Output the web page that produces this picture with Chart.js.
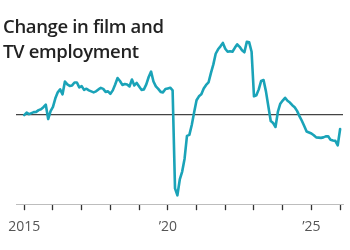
<!DOCTYPE html>
<html>
<head>
<meta charset="utf-8">
<script src="https://cdn.jsdelivr.net/npm/chart.js@4"></script>
<style>
  html, body { margin: 0; padding: 0; background: #fff; }
  #wrap { position: relative; width: 350px; height: 250px; }
  #title {
    position: absolute; left: 3px; top: 13px;
    font-family: "Open Sans", sans-serif; font-weight: 600;
    font-size: 18.5px; line-height: 25px; letter-spacing: -0.35px; color: #222;
    pointer-events: none;
  }
</style>
</head>
<body>
<div id="wrap">
  <canvas id="chart" width="350" height="250"></canvas>
  <div id="title">Change in film and<br>TV employment</div>
</div>
<script>
// monthly, Jan 2015 .. Jan 2026, change vs. Jan 2015 (arbitrary units)
const startYear = 2015;
const values = [
  0, 2.5, 1, 2, 3, 3.3, 5, 6, 8, 10.5, -4, 4,
  8.3, 17, 23, 26, 21, 34, 31, 29.5, 30, 33, 33, 28,
  29.3, 25.5, 26.7, 25, 24, 23, 24, 26, 27.5, 26.5, 23.5, 24,
  21.5, 25, 31, 37.5, 34.5, 30.5, 31.5, 31, 29, 36, 30, 32.5,
  29, 25.5, 26, 31, 38.5, 44, 34, 29, 26.5, 23.5, 23, 26.3,
  27, 27.7, 25, -74, -81, -65, -57, -44, -21, -20, -10, 3,
  15, 19, 21, 27, 30.5, 33, 42.5, 51, 62, 66.5, 69.5, 73,
  67, 64, 64.5, 64, 68, 71.5, 69, 65.5, 63.5, 74, 73.5, 64,
  19, 20, 26, 34.5, 35.5, 24, 9, -6, -8, -12, 3.5, 11.5,
  14.7, 17.5, 14.5, 12.7, 10, 8, 4.3, -1, -5.7, -11, -16.5, -17.5,
  -18.5, -20.3, -22.5, -22.7, -23, -22.5, -21.5, -21.3, -25, -25.7, -26, -30.5,
  -14
];
const tickYears = [2015, 2016, 2017, 2018, 2019, 2020, 2021, 2022, 2023, 2024, 2025, 2026];
const tickLabels = ["2015", "", "", "", "", "\u201920", "", "", "", "", "\u201925", ""];

const points = values.map((v, i) => ({ x: startYear + i / 12, y: v }));

const ctx = document.getElementById("chart").getContext("2d");
const chart = new Chart(ctx, {
  type: "line",
  data: {
    datasets: [
      {
        data: points,
        borderColor: "#1aa3b8",
        borderWidth: 2.6,
        pointRadius: 0,
        tension: 0,
        borderJoinStyle: "round",
        borderCapStyle: "round",
        clip: false,
      },
    ],
  },
  options: {
    responsive: false,
    animation: false,
    layout: { padding: { left: 10, right: 7, top: 30, bottom: 7 } },
    plugins: { legend: { display: false }, tooltip: { enabled: false }, title: { display: false } },
    scales: {
      x: {
        type: "linear",
        min: 2014.73,
        max: 2026.1,
        afterBuildTicks: (s) => { s.ticks = tickYears.map((v) => ({ value: v })); },
        border: { display: true, color: "#bdbdbd", width: 1 },
        grid: { display: true, drawOnChartArea: false, drawTicks: true, tickLength: 6, tickColor: "#333", tickWidth: 1.3 },
        ticks: {
          autoSkip: false, maxRotation: 0, padding: 8, color: "#555",
          font: { family: "Open Sans", size: 14 },
          callback: (v) => tickLabels[tickYears.indexOf(v)] ?? "",
        },
      },
      y: {
        min: -90,
        max: 86,
        border: { display: false },
        grid: {
          drawTicks: false,
          color: (c) => (c.tick && c.tick.value === 0 ? "#444" : "rgba(0,0,0,0)"),
          lineWidth: 1.3,
        },
        ticks: { display: false, stepSize: 10 },
      },
    },
  },
});
</script>
</body>
</html>
